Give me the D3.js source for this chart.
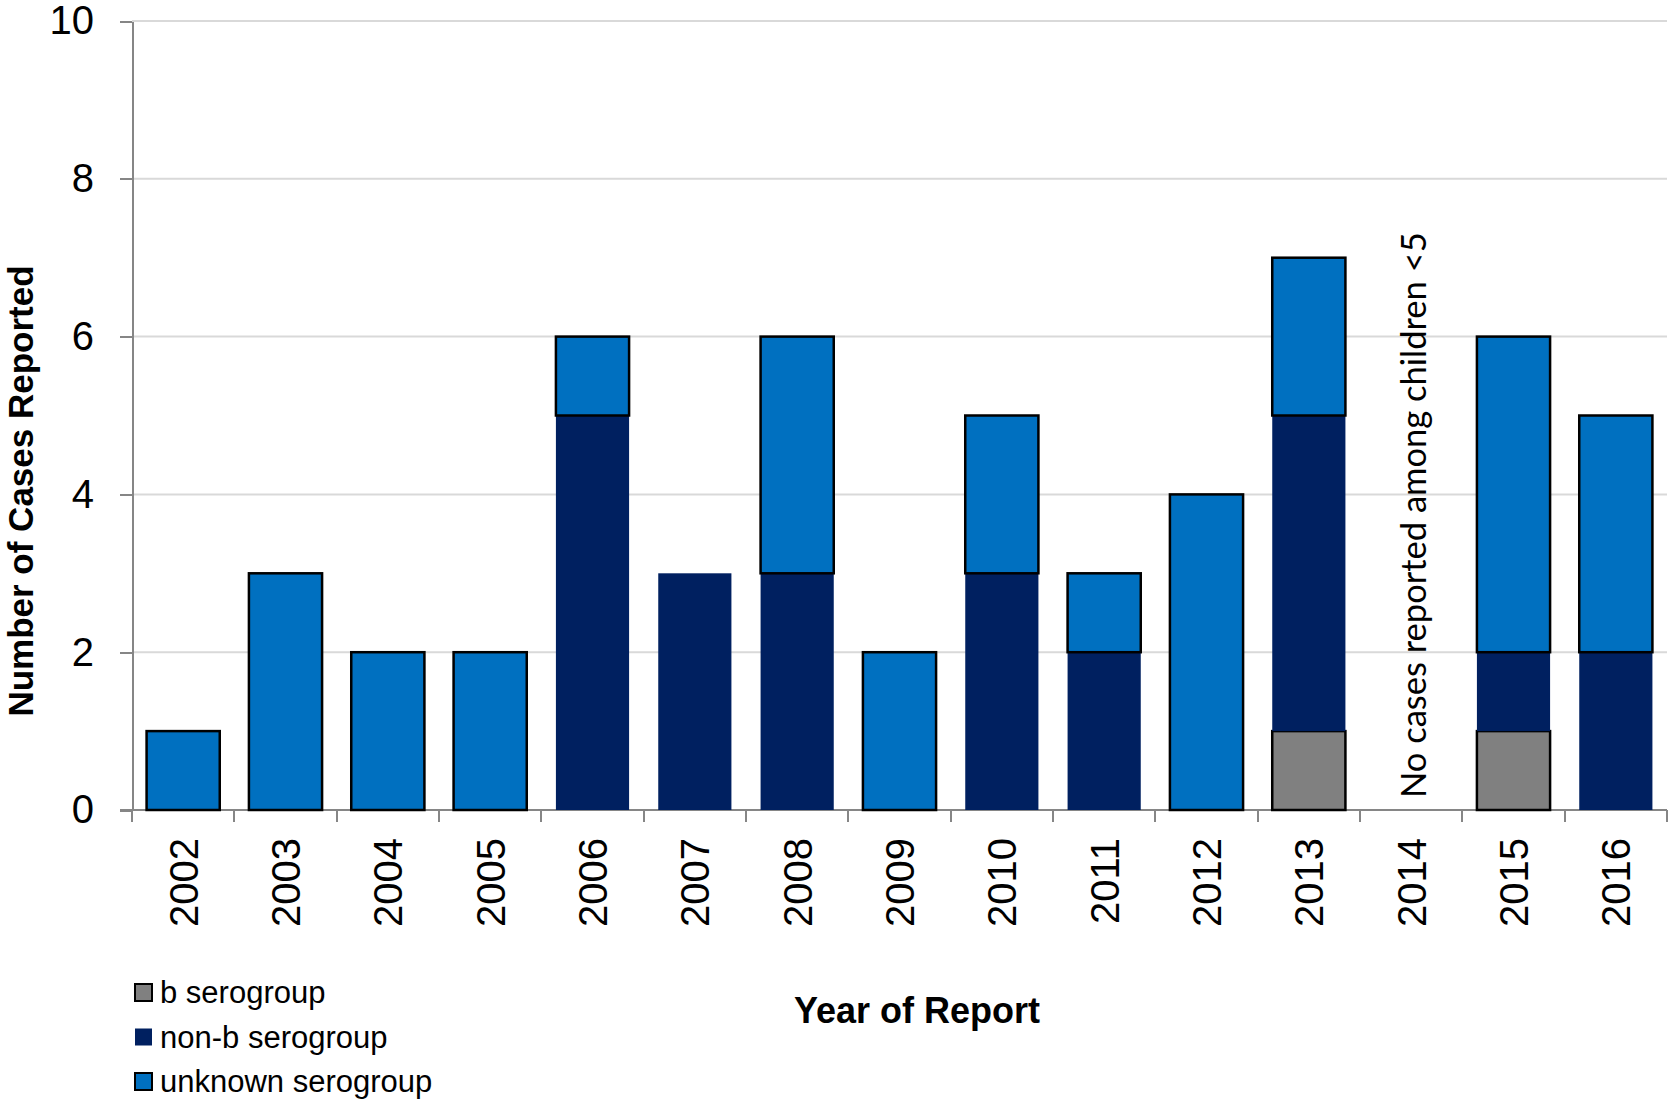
<!DOCTYPE html>
<head>
  <meta charset="utf-8">
  <script src="https://d3js.org/d3.v7.min.js"></script>
  <style>
    body {
      margin: 0;
      background: #fff;
    }

    text {
      font-family: "Liberation Sans", Arial, sans-serif;
      fill: #000;
    }

    .axis path,
    .axis line {
      fill: none;
      stroke: #868686;
      stroke-width: 2px;
      shape-rendering: crispEdges;
    }
  </style>
</head>

<body>
  <script>
    // values
    var years = ["2002", "2003", "2004", "2005", "2006", "2007", "2008", "2009",
      "2010", "2011", "2012", "2013", "2014", "2015", "2016"];
    var bSero = [0, 0, 0, 0, 0, 0, 0, 0, 0, 0, 0, 1, 0, 1, 0];
    var nonbSero = [0, 0, 0, 0, 5, 3, 3, 0, 3, 2, 0, 4, 0, 1, 2];
    var unknownSero = [1, 3, 2, 2, 1, 0, 3, 2, 2, 1, 4, 2, 0, 4, 3];
    var yTicks = [0, 2, 4, 6, 8, 10];
    var seriesNames = ["b serogroup", "non-b serogroup", "unknown serogroup"];
    var seriesKeys = ["b", "nonb", "unknown"];
    var note = "No cases reported among children <5";
    var noteYear = "2014";

    var width = 1668, height = 1100;
    var plotLeft = 132, plotRight = 1667, plotTop = 21, plotBottom = 810;

    var colors = { b: "#808080", nonb: "#002060", unknown: "#0070c0" };
    var strokes = { b: "#000", nonb: "none", unknown: "#000" };

    var data = years.map(function (y, i) {
      return { year: y, b: bSero[i], nonb: nonbSero[i], unknown: unknownSero[i] };
    });

    var svg = d3.select("body").append("svg")
      .attr("width", width)
      .attr("height", height);

    var x = d3.scaleBand()
      .domain(years)
      .range([plotLeft, plotRight])
      .paddingInner(0.285)
      .paddingOuter(0.1425);

    var y = d3.scaleLinear()
      .domain([0, 10])
      .range([plotBottom, plotTop]);

    // gridlines
    svg.append("g")
      .selectAll("line")
      .data(yTicks.slice(1))
      .enter().append("line")
      .attr("x1", plotLeft)
      .attr("x2", plotRight)
      .attr("y1", d => y(d))
      .attr("y2", d => y(d))
      .attr("stroke", "#d9d9d9")
      .attr("stroke-width", 2);

    // y axis
    var yAxis = svg.append("g")
      .attr("class", "axis")
      .attr("transform", "translate(" + plotLeft + ",0)")
      .call(d3.axisLeft(y).tickValues(yTicks).tickSize(12).tickSizeOuter(0).tickPadding(26));
    yAxis.selectAll("text")
      .style("font-size", "40px")
      .style("font-family", "Liberation Sans, Arial, sans-serif")
      .attr("fill", "#000");

    // x axis: line + ticks at band edges
    var step = x.step();
    var edges = years.map(d => x(d) - (step - x.bandwidth()) / 2);
    edges.push(plotRight);
    var xAxis = svg.append("g").attr("class", "axis");
    xAxis.append("line")
      .attr("x1", plotLeft - 12).attr("x2", plotRight)
      .attr("y1", plotBottom).attr("y2", plotBottom);
    xAxis.selectAll(".tk")
      .data(edges)
      .enter().append("line")
      .attr("class", "tk")
      .attr("x1", d => d).attr("x2", d => d)
      .attr("y1", plotBottom).attr("y2", plotBottom + 12);

    svg.append("g")
      .selectAll("text")
      .data(years)
      .enter().append("text")
      .attr("transform", d => "translate(" + (x(d) + x.bandwidth() / 2) + "," + (plotBottom + 28) + ") rotate(-90)")
      .attr("dy", "0.36em")
      .style("text-anchor", "end")
      .style("font-size", "40px")
      .text(d => d);

    // stacked bars
    var stack = d3.stack().keys(seriesKeys)(data);

    svg.append("g")
      .selectAll("g")
      .data(stack)
      .enter().append("g")
      .attr("fill", d => colors[d.key])
      .attr("stroke", d => strokes[d.key])
      .attr("stroke-width", 2.5)
      .selectAll("rect")
      .data(d => d.filter(v => v[1] > v[0]))
      .enter().append("rect")
      .attr("x", d => x(d.data.year))
      .attr("width", x.bandwidth())
      .attr("y", d => y(d[1]))
      .attr("height", d => y(d[0]) - y(d[1]));

    // note for 2014
    svg.append("text")
      .attr("transform", "translate(" + (x(noteYear) + x.bandwidth() / 2 + 15) + "," + 798 + ") rotate(-90)")
      .style("font-family", "Lato, 'Open Sans', sans-serif")
      .style("font-size", "34.5px")
      .text(note);

    // axis titles
    svg.append("text")
      .attr("transform", "translate(33,491) rotate(-90)")
      .style("text-anchor", "middle")
      .style("font-weight", "bold")
      .style("font-size", "35px")
      .text("Number of Cases Reported");

    svg.append("text")
      .attr("x", 917)
      .attr("y", 1023)
      .style("text-anchor", "middle")
      .style("font-weight", "bold")
      .style("font-size", "36px")
      .text("Year of Report");

    // legend
    var legend = svg.append("g")
      .selectAll("g")
      .data(seriesKeys)
      .enter().append("g")
      .attr("transform", (d, i) => "translate(135," + (984 + i * 44.5) + ")");

    legend.append("rect")
      .attr("width", 17)
      .attr("height", 17)
      .attr("fill", d => colors[d])
      .attr("stroke", d => strokes[d])
      .attr("stroke-width", 2);

    legend.append("text")
      .attr("x", 25)
      .attr("y", 19)
      .style("font-size", "31px")
      .text((d, i) => seriesNames[i]);
  </script>
</body>
